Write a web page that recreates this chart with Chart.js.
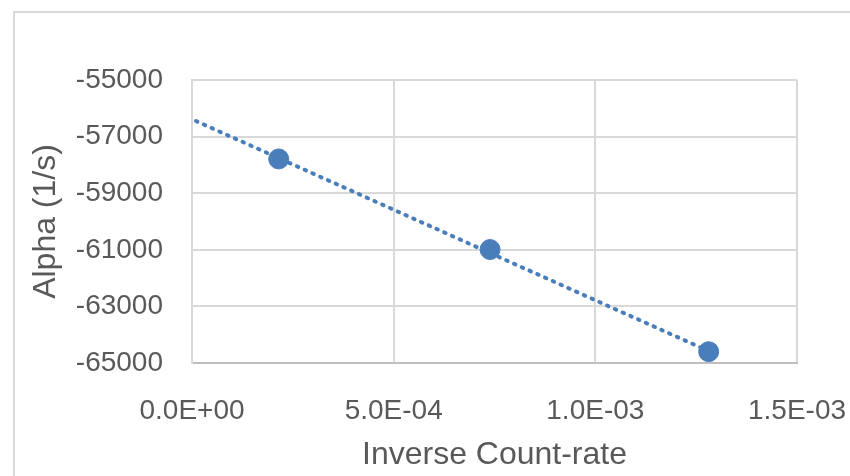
<!DOCTYPE html>
<html>
<head>
<meta charset="utf-8">
<script src="https://cdn.jsdelivr.net/npm/chart.js@4/dist/chart.umd.min.js"></script>
<style>
  html, body { margin: 0; padding: 0; background: #fff; }
  #wrap { width: 850px; height: 476px; position: relative; }
</style>
</head>
<body>
<div id="wrap"><canvas id="myChart" width="850" height="476"></canvas></div>
<script>
// measured points
const inverseRate = [2.15e-4, 7.39e-4, 1.281e-3]
const alpha = [-57790, -60990, -64600]

// dotted trend line, end points
const trendX = [1.0e-5, 1.281e-3]
const trendY = [-56450, -64580]

const xTickValues = [0, 5e-4, 1e-3, 1.5e-3]
const yTickValues = [-65000, -63000, -61000, -59000, -57000, -55000]

const blue = '#4a7ebb'
const grid = '#d9d9d9'
const textGray = '#595959'
const family = '"Liberation Sans", Arial, sans-serif'

function sci(v) {
    // 5.0E-04 style like Excel
    let s = v.toExponential(1).toUpperCase()
    return s.replace(/E([+-])(\d)$/, 'E$10$2')
}

// grey frame round the whole chart (Excel chart border)
const frame = {
    id: 'frame',
    beforeDraw(chart) {
        const c = chart.ctx
        c.save()
        c.strokeStyle = grid
        c.lineWidth = 2
        c.strokeRect(14, 12, 900, 500)
        c.restore()
    }
}

const ctx = document.getElementById('myChart').getContext('2d')

new Chart(ctx, {
    type: 'scatter',
    data: {
        datasets: [{
            label: 'trend',
            data: trendX.map((x, i) => ({x: x, y: trendY[i]})),
            showLine: true,
            borderColor: blue,
            borderWidth: 4,
            borderDash: [1.5, 7],
            borderCapStyle: 'round',
            pointRadius: 0,
            order: 2
        }, {
            label: 'Alpha',
            data: inverseRate.map((x, i) => ({x: x, y: alpha[i]})),
            backgroundColor: blue,
            borderColor: blue,
            pointRadius: 10,
            pointHoverRadius: 10,
            order: 1
        }]
    },
    options: {
        responsive: false,
        animation: false,
        layout: {
            padding: {left: 0, top: 80, right: 53, bottom: 0}
        },
        plugins: {
            legend: {display: false},
            tooltip: {enabled: false}
        },
        scales: {
            x: {
                type: 'linear',
                min: 0,
                max: 1.5e-3,
                afterBuildTicks: s => { s.ticks = xTickValues.map(v => ({value: v})) },
                afterFit: s => {
                    s.height = 113
                    s.paddingLeft = 0
                    s.paddingRight = 0
                },
                grid: {color: grid, lineWidth: 2, drawTicks: false},
                border: {color: '#bfbfbf', width: 2},
                ticks: {
                    padding: 31,
                    color: textGray,
                    font: {family: family, size: 28, lineHeight: 1.2},
                    callback: v => sci(v),
                    maxRotation: 0
                },
                title: {
                    display: true,
                    text: 'Inverse Count-rate',
                    color: textGray,
                    padding: {top: 2, bottom: 2},
                    font: {family: family, size: 32, lineHeight: 1.2}
                }
            },
            y: {
                type: 'linear',
                min: -65000,
                max: -55000,
                afterBuildTicks: s => { s.ticks = yTickValues.map(v => ({value: v})) },
                afterFit: s => {
                    s.width = 192
                    s.paddingTop = 0
                    s.paddingBottom = 0
                },
                grid: {color: grid, lineWidth: 2, drawTicks: false},
                border: {color: grid, width: 2},
                ticks: {
                    padding: 29,
                    color: textGray,
                    font: {family: family, size: 28, lineHeight: 1.2},
                    callback: v => String(v)
                },
                title: {
                    display: true,
                    text: 'Alpha (1/s)',
                    color: textGray,
                    padding: {top: 27, bottom: 0},
                    font: {family: family, size: 32, lineHeight: 1.2}
                }
            }
        }
    },
    plugins: [frame]
})
</script>
</body>
</html>
